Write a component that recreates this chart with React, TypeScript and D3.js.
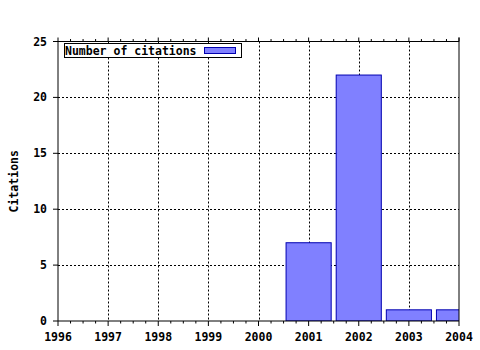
import React from "react";
import * as d3 from "d3";

const years = [2001, 2002, 2003, 2004];
const citations = [7, 22, 1, 1];
const xTickYears = [1996, 1997, 1998, 1999, 2000, 2001, 2002, 2003, 2004];
const yTicks = [0, 5, 10, 15, 20, 25];
const seriesName = "Number of citations";
const yLabel = "Citations";

const W = 480;
const H = 350;
const left = 58;
const right = 459;
const top = 41.5;
const bottom = 321;
const font = "'DejaVu Sans Mono', monospace";
const barFill = "#8080ff";
const barStroke = "#0000b0";

export default function App() {
  const x = d3.scaleLinear().domain([1996, 2004]).range([left, right]);
  const y = d3.scaleLinear().domain([0, 25]).range([bottom, top]);
  const barW = x(1996.9) - x(1996);
  const minor: number[] = [];
  for (let v = 1996; v < 2004; v++) {
    for (let k = 1; k < 4; k++) minor.push(v + k / 4);
  }
  return (
    <svg
      width={W}
      height={H}
      style={{ position: "absolute", left: 0, top: 0, background: "#fff" }}
      fontFamily={font}
    >
      <defs>
        <clipPath id="plot">
          <rect x={left} y={top} width={right - left} height={bottom - top} />
        </clipPath>
      </defs>
      {/* grid */}
      {xTickYears.slice(1, -1).map((v) => (
        <line
          key={"gx" + v}
          x1={Math.round(x(v)) + 0.5}
          x2={Math.round(x(v)) + 0.5}
          y1={top}
          y2={bottom}
          stroke="#000"
          strokeWidth={1}
          strokeDasharray="2,2"
        />
      ))}
      {yTicks.slice(1, -1).map((v) => (
        <line
          key={"gy" + v}
          x1={left}
          x2={right}
          y1={Math.round(y(v)) + 0.5}
          y2={Math.round(y(v)) + 0.5}
          stroke="#000"
          strokeWidth={1}
          strokeDasharray="2,2"
        />
      ))}
      {/* bars */}
      <g clipPath="url(#plot)">
        {years.map((yr, i) => (
          <rect
            key={yr}
            x={x(yr) - barW / 2}
            y={y(citations[i])}
            width={barW}
            height={bottom - y(citations[i])}
            fill={barFill}
            stroke={barStroke}
            strokeWidth={1}
          />
        ))}
      </g>
      {/* frame */}
      <line x1={left} x2={left} y1={top} y2={bottom} stroke="#000" />
      <line x1={right} x2={right} y1={top - 4} y2={bottom} stroke="#000" />
      <line x1={left} x2={right} y1={bottom} y2={bottom} stroke="#000" />
      <line x1={left} x2={right} y1={top} y2={top} stroke="#000" />
      {/* x ticks */}
      {xTickYears.map((v) => (
        <g key={"xt" + v}>
          <line x1={x(v)} x2={x(v)} y1={bottom} y2={bottom + 5} stroke="#000" />
          <line x1={x(v)} x2={x(v)} y1={top} y2={top - 4} stroke="#000" />
          <text
            x={x(v)}
            y={341}
            textAnchor="middle"
            fontSize={11.5}
            fontWeight="bold"
          >
            {v}
          </text>
        </g>
      ))}
      {minor.map((v) => (
        <g key={"mt" + v}>
          <line x1={x(v)} x2={x(v)} y1={bottom} y2={bottom + 2.5} stroke="#000" />
          <line x1={x(v)} x2={x(v)} y1={top} y2={top - 2.5} stroke="#000" />
        </g>
      ))}
      {/* y ticks */}
      {yTicks.map((v) => (
        <g key={"yt" + v}>
          <line x1={left - 5} x2={left} y1={y(v)} y2={y(v)} stroke="#000" />
          <text
            x={47}
            y={y(v) + 4}
            textAnchor="end"
            fontSize={11.5}
            fontWeight="bold"
          >
            {v}
          </text>
        </g>
      ))}
      <text
        transform={`translate(18,${(top + bottom) / 2}) rotate(-90)`}
        textAnchor="middle"
        fontSize={11.5}
        fontWeight="bold"
      >
        {yLabel}
      </text>
      {/* legend */}
      <rect x={64.5} y={43.5} width={177} height={14} fill="#fff" stroke="#000" />
      <text x={65} y={54.5} fontSize={11.5} fontWeight="bold">
        {seriesName}
      </text>
      <rect x={204.5} y={47.5} width={31} height={6} fill={barFill} stroke={barStroke} />
    </svg>
  );
}
